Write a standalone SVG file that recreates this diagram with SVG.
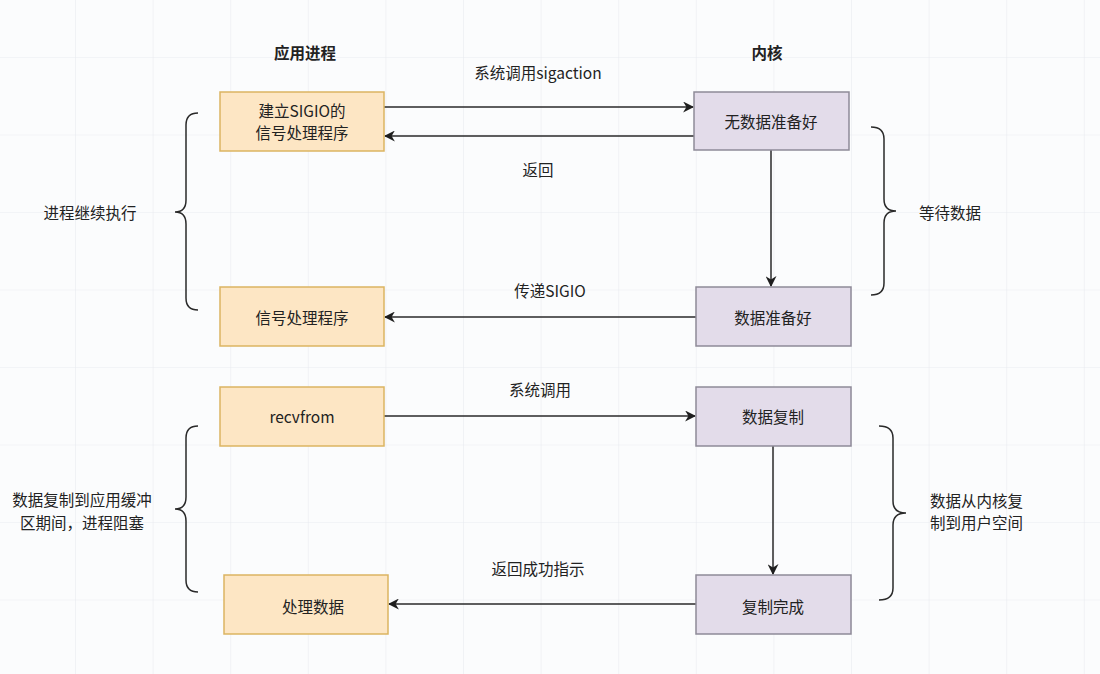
<svg xmlns="http://www.w3.org/2000/svg" width="1100" height="674" viewBox="0 0 1100 674">
<defs>
<pattern id="grid" x="-2.6" y="-20.5" width="77.6" height="77.5" patternUnits="userSpaceOnUse">
<path d="M0 0 H77.6 M0 0 V77.5" fill="none" stroke="#e9ecf1" stroke-width="1.2"/>
</pattern>
<marker id="arr" viewBox="0 0 10 10" refX="9" refY="5" markerWidth="11" markerHeight="11" markerUnits="userSpaceOnUse" orient="auto">
<path d="M0 0 L10 5 L0 10 L3 5 Z" fill="#1e1e1e"/>
</marker>
<style>
text{font-family:"Noto Sans CJK SC","Liberation Sans",sans-serif;font-size:15.5px;fill:#222;}
.h{font-weight:bold;}
.c{text-anchor:middle;dominant-baseline:central;}
.app rect{fill:#fde6c4;stroke:#dbb461;stroke-width:1.5;}
.ker rect{fill:#e3dcea;stroke:#8e8a98;stroke-width:1.5;}
.ln{fill:none;stroke:#2a2a2a;stroke-width:1.5;marker-end:url(#arr);}
.br{fill:none;stroke:#2a2a2a;stroke-width:1.5;}
</style>
</defs>
<rect width="1100" height="674" fill="#fbfcfd"/>
<rect width="1100" height="674" fill="url(#grid)"/>

<g id="headers">
<text class="h c" x="305" y="52">应用进程</text>
<text class="h c" x="767" y="52">内核</text>
</g>

<g id="connectors">
<line class="ln" x1="384" y1="107" x2="693" y2="107"/>
<line class="ln" x1="694" y1="136" x2="385" y2="136"/>
<line class="ln" x1="771" y1="150" x2="771" y2="286"/>
<line class="ln" x1="696" y1="317" x2="385" y2="317"/>
<line class="ln" x1="384" y1="416" x2="695" y2="416"/>
<line class="ln" x1="773" y1="446" x2="773" y2="574"/>
<line class="ln" x1="696" y1="604" x2="389" y2="604"/>
<text class="c" x="538" y="72">系统调用sigaction</text>
<text class="c" x="538" y="169">返回</text>
<text class="c" x="550" y="290">传递SIGIO</text>
<text class="c" x="540" y="389">系统调用</text>
<text class="c" x="538" y="568">返回成功指示</text>
</g>

<g id="nodeA" class="app"><rect x="220" y="92" width="164" height="59"/>
<text class="c" x="302" y="110">建立SIGIO的</text><text class="c" x="302" y="132">信号处理程序</text></g>
<g id="nodeB" class="ker"><rect x="694" y="92" width="155" height="58"/>
<text class="c" x="771" y="121">无数据准备好</text></g>
<g id="nodeC" class="app"><rect x="220" y="287" width="164" height="59"/>
<text class="c" x="302" y="317">信号处理程序</text></g>
<g id="nodeD" class="ker"><rect x="696" y="287" width="155" height="59"/>
<text class="c" x="773" y="317">数据准备好</text></g>
<g id="nodeE" class="app"><rect x="220" y="387" width="164" height="59"/>
<text class="c" x="302" y="416">recvfrom</text></g>
<g id="nodeF" class="ker"><rect x="696" y="387" width="155" height="59"/>
<text class="c" x="773" y="416">数据复制</text></g>
<g id="nodeG" class="app"><rect x="224" y="575" width="164" height="59"/>
<text class="c" x="313" y="606">处理数据</text></g>
<g id="nodeH" class="ker"><rect x="696" y="575" width="155" height="59"/>
<text class="c" x="773" y="606">复制完成</text></g>

<g id="braces">
<path class="br" d="M198 113 Q186 113 186 125 V200 Q186 212 175 212 Q186 212 186 224 V298 Q186 310 198 310"/>
<text class="c" x="90" y="212">进程继续执行</text>
<path class="br" d="M871 127 Q884 127 884 139 V199 Q884 211 896 211 Q884 211 884 223 V283 Q884 295 871 295"/>
<text class="c" x="950" y="212">等待数据</text>
<path class="br" d="M198 426 Q186 426 186 438 V497 Q186 509 175 509 Q186 509 186 521 V580 Q186 592 198 592"/>
<text class="c" x="82" y="499">数据复制到应用缓冲</text>
<text class="c" x="82" y="522">区期间，进程阻塞</text>
<path class="br" d="M879 426 Q893 426 893 438 V501 Q893 513 906 513 Q893 513 893 525 V588 Q893 600 879 600"/>
<text x="930" y="500" style="dominant-baseline:central">数据从内核复</text>
<text x="930" y="522" style="dominant-baseline:central">制到用户空间</text>
</g>
</svg>
